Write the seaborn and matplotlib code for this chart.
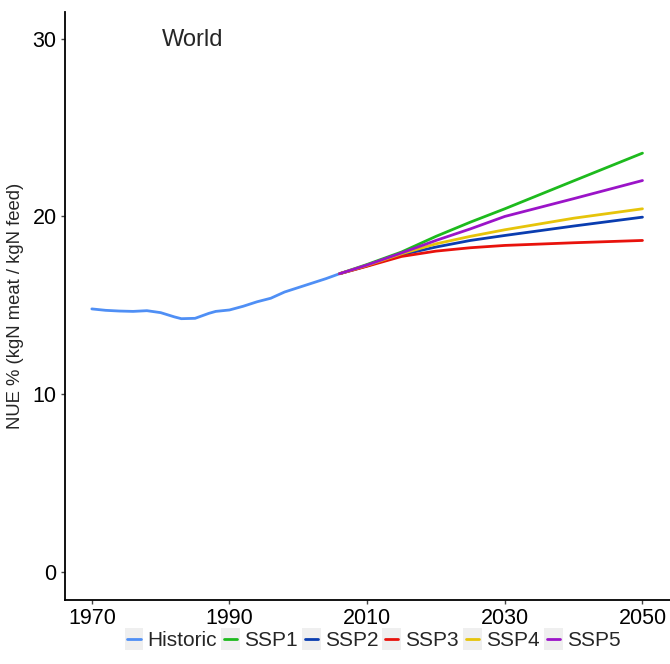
import pandas as pd
import seaborn as sns
import matplotlib.pyplot as plt
from matplotlib.patches import Rectangle
from matplotlib.legend_handler import HandlerLine2D

# historic NUE, world
hist_years = [1970, 1972, 1974, 1976, 1978, 1980, 1982, 1983, 1985, 1987, 1988, 1990,
              1992, 1994, 1996, 1998, 2000, 2002, 2004, 2006]
hist_nue = [14.8, 14.72, 14.68, 14.66, 14.7, 14.59, 14.35, 14.25, 14.27, 14.55, 14.66, 14.74,
            14.95, 15.2, 15.4, 15.75, 16.0, 16.25, 16.5, 16.78]

# scenario projections
proj_years = [2006, 2010, 2015, 2020, 2025, 2030, 2040, 2050]
ssp1 = [16.78, 17.3, 18.0, 18.88, 19.68, 20.43, 22.0, 23.56]
ssp2 = [16.78, 17.22, 17.85, 18.28, 18.65, 18.93, 19.46, 19.96]
ssp3 = [16.78, 17.2, 17.75, 18.05, 18.24, 18.37, 18.52, 18.65]
ssp4 = [16.78, 17.25, 17.9, 18.46, 18.88, 19.25, 19.9, 20.43]
ssp5 = [16.78, 17.27, 17.95, 18.65, 19.3, 20.0, 21.0, 22.02]

series = ["Historic", "SSP1", "SSP2", "SSP3", "SSP4", "SSP5"]
colors = ["#4F8FF5", "#1DBA1D", "#0A3DB0", "#E8120C", "#E6C40A", "#9B14C8"]

rows = [(y, v, "Historic") for y, v in zip(hist_years, hist_nue)]
for name, vals in zip(series[1:], [ssp1, ssp2, ssp3, ssp4, ssp5]):
    rows += [(y, v, name) for y, v in zip(proj_years, vals)]
df = pd.DataFrame(rows, columns=["year", "nue", "scenario"])


class GreyKey(HandlerLine2D):
    """legend key with a light grey box behind a short line, ggplot style"""
    def create_artists(self, legend, orig_handle, xdescent, ydescent, width, height,
                       fontsize, trans):
        box = Rectangle((-xdescent, -ydescent - 3), width, height + 6,
                        facecolor="#EFEFEF", edgecolor="none", transform=trans)
        arts = super().create_artists(legend, orig_handle, xdescent, ydescent,
                                      width, height, fontsize, trans)
        y0 = arts[0].get_ydata()[0]
        arts[0].set_data([-xdescent + 2, -xdescent + width - 2], [y0, y0])
        return [box] + arts


sns.set_style("white")
plt.rcParams["font.family"] = ["Liberation Sans", "DejaVu Sans"]

fig, ax = plt.subplots(figsize=(6.7, 6.64), dpi=100)
sns.lineplot(data=df, x="year", y="nue", hue="scenario", hue_order=series,
             palette=dict(zip(series, colors)), linewidth=2, ax=ax, legend=False)

ax.set_xlim(1966.1, 2054)
ax.set_ylim(-1.57, 31.5)
ax.set_xticks([1970, 1990, 2010, 2030, 2050])
ax.set_yticks([0, 10, 20, 30])
ax.tick_params(labelsize=15.5, length=3, width=1, color="#444444", labelcolor="black",
               direction="out", bottom=True, left=True, pad=3)
ax.set_xlabel("")
ax.set_ylabel("NUE % (kgN meat / kgN feed)", fontsize=13.3, labelpad=6)
sns.despine(ax=ax)
for s in ["left", "bottom"]:
    ax.spines[s].set_color("black")
    ax.spines[s].set_linewidth(1.3)

ax.text(1980.2, 29.9, "World", fontsize=17, ha="left", va="center")

handles = [plt.Line2D([], [], color=c, linewidth=2) for c in colors]
fig.legend(handles, series, loc="center", bbox_to_anchor=(0.556, 0.035), ncol=6,
           frameon=False, fontsize=15, handlelength=0.9, handletextpad=0.2,
           columnspacing=0.2, handler_map={plt.Line2D: GreyKey()})

fig.subplots_adjust(left=0.097, right=1.0, top=0.982, bottom=0.0964)
fig.savefig("out.png", dpi=100)
